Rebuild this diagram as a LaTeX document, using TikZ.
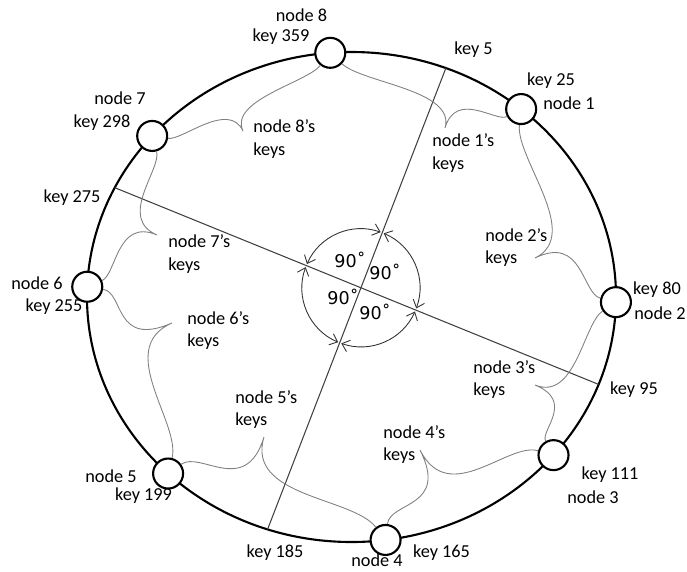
\documentclass[tikz,border=0pt]{standalone}
\usepackage{fontspec}
\setmainfont{Carlito}
\newfontfamily\degfont{DejaVu Sans}
\usetikzlibrary{calc,arrows.meta}

\newcommand{\keysbrace}[3]{%
  \coordinate (bp) at ($(#1)!(#3)!(#2)$);
  \coordinate (bv) at ($(#3)-(bp)$);
  \draw[brace] (#1) .. controls ($(#1)!0.3!(bp)+0.5*(bv)$) and (bp) .. (#3)
    .. controls (bp) and ($(#2)!0.3!(bp)+0.5*(bv)$) .. (#2);
}

\begin{document}
\begin{tikzpicture}[font=\fontsize{10.4}{12.8}\selectfont,
    peer/.style={circle,draw,line width=1.2pt,fill=white,minimum size=0.6cm,inner sep=0pt},
    ring/.style={line width=1.2pt},
    keyline/.style={black!75,line width=0.6pt},
    brace/.style={black!50,line width=0.5pt},
    turn/.style={black!80,line width=0.5pt,{Straight Barb[length=1.4mm,width=2.4mm]}-{Straight Barb[length=1.4mm,width=2.4mm]}},
    keys/.style={align=left,anchor=west,inner sep=0pt},
    lbl/.style={inner sep=0pt},
    deg/.style={font=\degfont\fontsize{10}{12}\selectfont,inner sep=0pt}]
    \useasboundingbox (-7.03,-5.48) rectangle (6.71,5.94);

    \draw[ring] (0,0) ellipse [x radius=5.29cm, y radius=4.9cm];

    \node[peer] (n8) at (94.6:5.29cm and 4.9cm) {};
    \node[peer] (n1) at (50.1:5.29cm and 4.9cm) {};
    \node[peer] (n2) at (-1.2:5.29cm and 4.9cm) {};
    \node[peer] (n3) at (-40.2:5.29cm and 4.9cm) {};
    \node[peer] (n4) at (-82.6:5.29cm and 4.9cm) {};
    \node[peer] (n5) at (-133.9:5.29cm and 4.9cm) {};
    \node[peer] (n6) at (177.6:5.29cm and 4.9cm) {};
    \node[peer] (n7) at (138.9:5.29cm and 4.9cm) {};

    \coordinate (k5) at (69.1:5.29cm and 4.9cm);
    \coordinate (k95) at (-20.9:5.29cm and 4.9cm);
    \coordinate (k185) at (251.5:5.29cm and 4.9cm);
    \coordinate (k275) at (153.5:5.29cm and 4.9cm);
    \draw[keyline] (k5) -- (k185);
    \draw[keyline] (k275) -- (k95);
    \coordinate (o) at (intersection of k5--k185 and k275--k95);

    \coordinate (t8) at (-2.17,3.32);
    \coordinate (t1) at (1.87,3.38);
    \coordinate (t2) at (3.67,0.78);
    \coordinate (t3) at (3.67,-1.76);
    \coordinate (t4) at (1.37,-3.06);
    \coordinate (t5) at (-1.75,-2.80);
    \coordinate (t6) at (-3.59,-0.52);
    \coordinate (t7) at (-3.89,1.24);
    \keysbrace{n7}{n8}{t8}
    \keysbrace{n8}{n1}{t1}
    \keysbrace{n1}{n2}{t2}
    \keysbrace{n2}{n3}{t3}
    \keysbrace{n3}{n4}{t4}
    \keysbrace{n4}{n5}{t5}
    \keysbrace{n5}{n6}{t6}
    \keysbrace{n6}{n7}{t7}

    \foreach \a/\b in {70.5/156.3, 159.5/247.3, 250.5/336.3, 339.5/427.3}
        \draw[turn] ([shift={(\a:1.18)}]o) arc[start angle=\a, end angle=\b, radius=1.18];

    \node[deg] (d1) at (-0.03,0.74) {90˚};
    \node[deg] (d2) at (0.67,0.50) {90˚};
    \node[deg] (d3) at (-0.17,0.0) {90˚};
    \node[deg] (d4) at (0.47,-0.30) {90˚};

    \node[keys] (l8) at (-1.97,3.16) {node 8’s\\keys};
    \node[keys] (l1) at (1.61,2.88) {node 1’s\\keys};
    \node[keys] (l2) at (2.67,0.99) {node 2’s\\keys};
    \node[keys] (l3) at (2.43,-1.65) {node 3’s\\keys};
    \node[keys] (l4) at (0.63,-2.95) {node 4’s\\keys};
    \node[keys] (l5) at (-2.33,-2.25) {node 5’s\\keys};
    \node[keys] (l6) at (-3.29,-0.67) {node 6’s\\keys};
    \node[keys] (l7) at (-3.67,0.86) {node 7’s\\keys};

    \node[lbl] (n8a) at (-1.0,5.64) {node 8};
    \node[lbl] (n8b) at (-1.41,5.20) {key 359};
    \node[lbl] (k5a) at (2.44,4.94) {key 5};
    \node[lbl] (n1b) at (3.99,4.32) {key 25};
    \node[lbl] (n1a) at (4.35,3.88) {node 1};
    \node[lbl] (n2b) at (6.11,0.14) {key 80};
    \node[lbl] (n2a) at (6.17,-0.32) {node 2};
    \node[lbl] (k95a) at (5.65,-1.86) {key 95};
    \node[lbl] (n3b) at (5.17,-3.56) {key 111};
    \node[lbl] (n3a) at (4.83,-4.0) {node 3};
    \node[lbl] (n4b) at (1.80,-5.12) {key 165};
    \node[lbl] (n4a) at (0.51,-5.27) {node 4};
    \node[lbl] (k185a) at (-1.53,-5.12) {key 185};
    \node[lbl] (n5a) at (-4.81,-3.58) {node 5};
    \node[lbl] (n5b) at (-4.16,-3.98) {key 199};
    \node[lbl] (n6a) at (-6.29,0.28) {node 6};
    \node[lbl] (n6b) at (-5.95,-0.20) {key 255};
    \node[lbl] (k275a) at (-5.59,1.98) {key 275};
    \node[lbl] (n7a) at (-4.63,3.98) {node 7};
    \node[lbl] (n7b) at (-4.99,3.48) {key 298};
\end{tikzpicture}
\end{document}
